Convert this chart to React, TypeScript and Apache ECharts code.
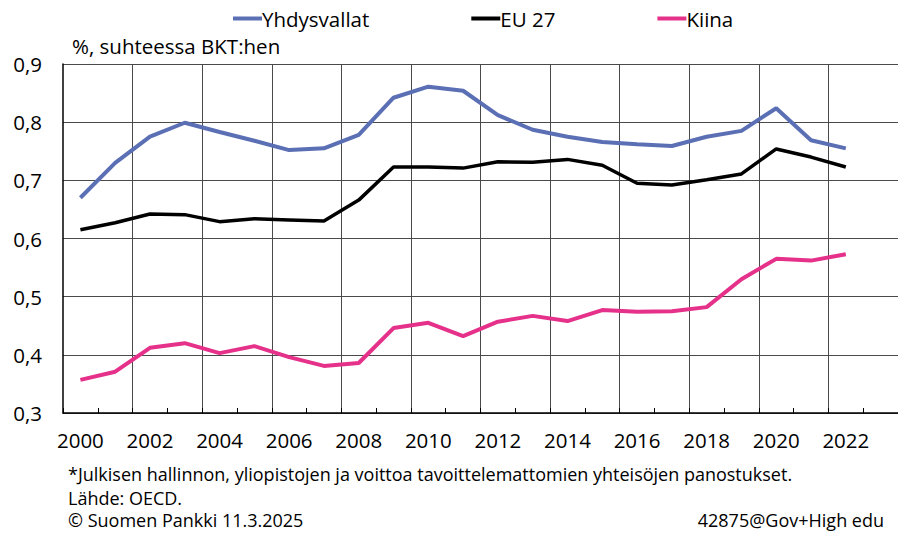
import React, { useEffect, useRef } from "react";
import * as echarts from "echarts";

const years = [
  "2000", "2001", "2002", "2003", "2004", "2005", "2006", "2007", "2008", "2009",
  "2010", "2011", "2012", "2013", "2014", "2015", "2016", "2017", "2018", "2019",
  "2020", "2021", "2022", "2023",
];

const usa = [
  0.670, 0.730, 0.775, 0.799, 0.783, 0.768, 0.752, 0.755, 0.778, 0.842,
  0.861, 0.854, 0.812, 0.787, 0.775, 0.766, 0.762, 0.759, 0.775, 0.785,
  0.824, 0.769, 0.755,
];

const eu27 = [
  0.615, 0.627, 0.642, 0.641, 0.629, 0.634, 0.632, 0.630, 0.666, 0.723,
  0.723, 0.721, 0.732, 0.731, 0.736, 0.726, 0.695, 0.692, 0.701, 0.711,
  0.754, 0.740, 0.723,
];

const china = [
  0.357, 0.371, 0.412, 0.420, 0.403, 0.415, 0.396, 0.381, 0.386, 0.446,
  0.455, 0.432, 0.457, 0.467, 0.458, 0.477, 0.474, 0.475, 0.482, 0.530,
  0.565, 0.562, 0.573,
];

const seriesNames = ["Yhdysvallat", "EU 27", "Kiina"];
const seriesColors = ["#5B6FB4", "#000000", "#E5318A"];

const unitLabel = "%, suhteessa BKT:hen";
const footnote1 = "*Julkisen hallinnon, yliopistojen ja voittoa tavoittelemattomien yhteisöjen panostukset.";
const footnote2 = "Lähde: OECD.";
const footnote3 = "© Suomen Pankki 11.3.2025";
const footnoteRight = "42875@Gov+High edu";

const FONT = "'Open Sans', 'Noto Sans', sans-serif";

export default function App() {
  const ref = useRef<HTMLDivElement>(null);
  useEffect(() => {
    if (!ref.current) return;
    const chart = echarts.init(ref.current, null, { renderer: "svg" });
    const data = [usa, eu27, china];
    chart.setOption({
      animation: false,
      backgroundColor: "#ffffff",
      textStyle: { fontFamily: FONT },
      legend: {
        top: 8,
        left: 233,
        padding: 0,
        itemGap: 102,
        itemWidth: 29,
        itemHeight: 4,
        icon: "rect",
        data: seriesNames,
        textStyle: {
          fontFamily: FONT,
          fontSize: 20.5,
          color: "#000",
          padding: [0, 0, 0, -5],
        },
      },
      grid: { left: 63, top: 64, width: 840, height: 349, containLabel: false },
      xAxis: {
        type: "category",
        data: years,
        boundaryGap: true,
        axisLine: { show: true, lineStyle: { color: "#000", width: 1.5 } },
        axisTick: {
          show: true,
          inside: true,
          length: 5,
          interval: 0,
          lineStyle: { color: "#000", width: 1 },
        },
        axisLabel: {
          interval: (index: number) => index % 2 === 0,
          fontFamily: FONT,
          fontSize: 20.5,
          color: "#000",
          margin: 16,
        },
        splitLine: {
          show: true,
          interval: (index: number) => index % 2 === 0 && index !== 0,
          lineStyle: { color: "#4a4a4a", width: 1 },
        },
      },
      yAxis: {
        type: "value",
        min: 0.3,
        max: 0.9,
        interval: 0.1,
        axisLine: { show: true, lineStyle: { color: "#000", width: 1.5 } },
        axisTick: { show: false },
        axisLabel: {
          fontFamily: FONT,
          fontSize: 20.5,
          color: "#000",
          margin: 21,
          formatter: (v: number) => v.toFixed(1).replace(".", ","),
        },
        splitLine: { show: true, lineStyle: { color: "#4a4a4a", width: 1 } },
      },
      series: seriesNames.map((name, i) => ({
        name,
        type: "line",
        data: data[i],
        showSymbol: false,
        symbol: "none",
        color: seriesColors[i],
        lineStyle: { color: seriesColors[i], width: i === 1 ? 3.5 : 4 },
        z: 3 - i,
      })),
      graphic: [
        {
          type: "text",
          left: 72,
          top: 35,
          style: { text: unitLabel, fontFamily: FONT, fontSize: 20.5, fill: "#000" },
        },
        {
          type: "text",
          left: 68,
          top: 465,
          style: { text: footnote1, fontFamily: FONT, fontSize: 18, fill: "#000" },
        },
        {
          type: "text",
          left: 68,
          top: 489,
          style: { text: footnote2, fontFamily: FONT, fontSize: 18, fill: "#000" },
        },
        {
          type: "text",
          left: 68,
          top: 511,
          style: { text: footnote3, fontFamily: FONT, fontSize: 18, fill: "#000" },
        },
        {
          type: "text",
          right: 14,
          top: 511,
          style: { text: footnoteRight, fontFamily: FONT, fontSize: 18, fill: "#000" },
        },
      ],
    });
    return () => chart.dispose();
  }, []);
  return (
    <div
      ref={ref}
      style={{ position: "fixed", left: 0, top: 0, width: 898, height: 533 }}
    />
  );
}
